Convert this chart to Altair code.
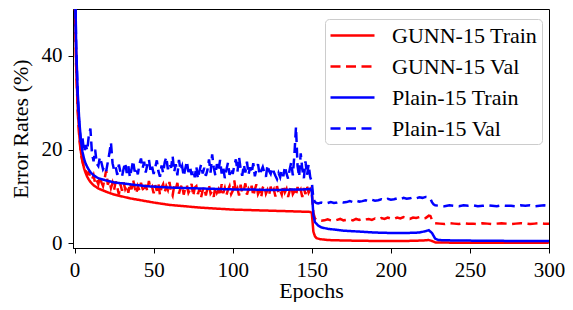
import altair as alt
import pandas as pd

SERIES = ["GUNN-15 Train", "GUNN-15 Val", "Plain-15 Train", "Plain-15 Val"]
COLORS = ["#ff0000", "#ff0000", "#0000ff", "#0000ff"]
DASHES = [[1, 0], [10, 5.5], [1, 0], [10, 5.5]]
X_TICKS = [0, 50, 100, 150, 200, 250, 300]
Y_TICKS = [0, 20, 40]

# GUNN-15 Train
gunn_train_ep = [0, 1, 2, 3, 4, 5, 6, 7, 8, 9, 10, 12, 15, 20, 25, 30, 35, 40, 45, 50,
                 60, 70, 80, 90, 100, 110, 120, 130, 140, 149, 150, 151, 152, 153, 155,
                 160, 170, 180, 190, 200, 210, 220, 224, 226, 228, 235, 250, 275, 300]
gunn_train_val = [60, 38, 29, 23, 19.5, 17.5, 16, 15, 14.2, 13.6, 13.1, 12.4, 11.7, 11, 10.4,
                  10, 9.6, 9.3, 9, 8.7, 8.2, 7.9, 7.6, 7.4, 7.2, 7.1, 7, 6.9, 6.8, 6.7, 6.5,
                  2.5, 1.5, 1.1, 0.9, 0.7, 0.6, 0.55, 0.5, 0.5, 0.5, 0.6, 0.7, 0.5, 0.2,
                  0.15, 0.12, 0.1, 0.1]

# Plain-15 Train
plain_train_ep = [0, 1, 2, 3, 4, 5, 6, 7, 8, 9, 10, 12, 15, 20, 25, 30, 35, 40, 45, 50,
                  60, 70, 80, 90, 100, 110, 120, 130, 140, 145, 149, 150, 151, 152, 154,
                  156, 160, 165, 170, 180, 190, 200, 210, 218, 222, 224, 226, 228, 230,
                  240, 260, 280, 300]
plain_train_val = [65, 42, 32, 26, 22, 19.5, 18, 17, 16.3, 15.7, 15.2, 14.5, 13.9, 13.4, 13,
                   12.8, 12.6, 12.4, 12.2, 12.1, 11.9, 11.8, 11.7, 11.6, 11.5, 11.5, 11.4,
                   11.4, 11.5, 11.5, 11.6, 11.2, 6, 4.5, 3.8, 3.4, 3.1, 2.9, 2.7, 2.5, 2.3,
                   2.2, 2.2, 2.3, 2.6, 2.8, 2.2, 1.0, 0.7, 0.6, 0.55, 0.5, 0.5]

# GUNN-15 Val
gunn_val_ep = list(range(0, 155)) + [156, 158, 160, 162, 164, 166, 168, 170, 172, 174, 176,
              178, 180, 182, 184, 186, 188, 190, 192, 194, 196, 198, 200, 202, 204, 206,
              208, 210, 212, 214, 216, 218, 220, 222, 224, 225, 226, 227, 228, 231, 234,
              237, 240, 243, 246, 249, 252, 255, 258, 261, 264, 267, 270, 273, 276, 279,
              282, 285, 288, 291, 294, 297, 300]
gunn_val_val = [55, 38, 28, 22.5, 19, 17.5, 16, 15.5, 14.8, 15.2, 14,
                13.6, 14.5, 12.8, 13.5, 12.6, 14.2, 13, 12.2, 13.8, 15.6,
                12.5, 13.4, 11.8, 12.9, 11.4, 13.2, 12, 10.4, 12.6, 11.2,
                13, 11.6, 12.4, 10.8, 12.8, 11.5, 13.6, 11.9, 10.6, 12.2,
                11.3, 12.9, 11.7, 10.9, 12.5, 11.1, 13.3, 11.6, 12.1, 10.7,
                12.4, 11.2, 12.8, 10.3, 11.9, 12.6, 10.9, 12.2, 11.4, 13.1,
                11, 10.2, 12.3, 11.5, 12.9, 10.6, 11.8, 12.5, 10.4, 11.7,
                12.4, 10.8, 11.5, 12.7, 10.1, 11.9, 12.2, 10.5, 11.6, 9.8,
                11.3, 12, 10.2, 11.7, 12.4, 10.6, 11.1, 9.9, 12.1, 10.8,
                11.5, 10.1, 12.6, 10.7, 11.8, 10.3, 11.4, 12.2, 10.5, 11.2,
                13.4, 10.9, 11.7, 10.2, 12.5, 10.8, 11.3, 12.8, 10.4, 11.6,
                10.9, 12.3, 10.1, 11.5, 12.6, 10.5, 11.2, 9.8, 11.9, 12.4,
                10.6, 11.4, 10.3, 12.1, 10.8, 11.5, 10, 12.2, 10.7, 11.3,
                10.4, 12.4, 10.9, 11.6, 9.9, 11.2, 12.3, 10.5, 11.1, 10.2,
                12, 10.7, 11.4, 9.9, 11.8, 10.5, 12.1, 10.8, 11.5, 10.6,
                6.5, 5.3, 5, 4.9,
                4.8, 4.9, 5.1, 4.9, 4.8, 5, 5.2, 4.9, 5, 5.1, 4.9,
                5.2, 5, 5.3, 5.1, 5.2, 5, 5.3, 5.1, 5.4, 5.2, 5.5, 5.3, 5.2, 5.5, 5.3,
                5.6, 5.4, 5.2, 5.5, 5.4, 5.6, 5.3, 5.4, 5.9, 5.8, 5, 4.5, 4.3, 4.2, 4.1,
                4.3, 4.2, 4.1, 4.3, 4.2, 4.2, 4.1, 4.3, 4.2, 4.1, 4.2, 4.3, 4.2, 4.1, 4.2,
                4.3, 4.2, 4.1, 4.2, 4.3, 4.2, 4.2]

# Plain-15 Val
plain_val_ep = list(range(0, 155)) + [156, 158, 160, 162, 164, 166, 168, 170, 172, 174, 176,
               178, 180, 182, 184, 186, 188, 190, 192, 194, 196, 198, 200, 202, 204, 206,
               208, 210, 212, 214, 216, 218, 220, 222, 224, 225, 226, 227, 228, 231, 234,
               237, 240, 243, 246, 249, 252, 255, 258, 261, 264, 267, 270, 273, 276, 279,
               282, 285, 288, 291, 294, 297, 300]
plain_val_val = [60, 42, 31, 25, 21.5, 22.5, 19.5, 21, 19.8, 23, 24.5,
                 19.2, 17.5, 20, 17, 16.5, 18.4, 17.2, 15.8, 16.4, 15.4,
                 17.3, 19.2, 21.5, 17.1, 15.6, 16.3, 14.6, 16.8, 15.2, 14.3,
                 15.9, 17.2, 15, 16.5, 14.1, 15.8, 17.6, 15.3, 16.2, 14.7,
                 16.9, 18.1, 16, 17.4, 15.1, 16.8, 17.9, 15.5, 16.4, 14.8,
                 16.2, 17.7, 15.4, 14.2, 16.6, 15, 17.3, 18.4, 15.8, 17,
                 16.1, 18.6, 15.3, 16.9, 14.5, 17.8, 15.6, 16.5, 14.3, 15.9,
                 17.5, 15.2, 16.3, 14.6, 15.7, 14.1, 16.4, 13.8, 15.5, 16.8,
                 14.9, 16.1, 14.4, 15.6, 17.9, 15.1, 19, 16.2, 14.5, 16.9,
                 15.4, 17.8, 14.9, 16.3, 13.9, 15.7, 17.2, 14.6, 16, 14.8,
                 16.6, 17.9, 15.3, 18.4, 15.9, 14.4, 16.8, 15.1, 17.4, 14.7,
                 16.2, 15, 17.1, 14.3, 15.8, 16.9, 14.6, 15.5, 16.3, 15.1,
                 14.2, 16.7, 15.4, 14.8, 16.1, 15.2, 14.4, 13.7, 15, 14.1,
                 15.6, 14.3, 16.4, 14.9, 13.8, 15.7, 17.3, 14.5, 18.9, 24.8,
                 16.5, 14.2, 19.2, 15.8, 13.9, 17.5, 14.6, 16.8, 14.1, 13.2,
                 9.5, 8.8, 8.6, 8.5,
                 8.7, 8.5, 8.6, 8.8, 8.6, 8.7, 8.9, 8.7, 8.8, 9, 8.8,
                 9.1, 8.9, 9, 9.2, 9, 9.3, 9.1, 9.2, 9.4, 9.2, 9.5, 9.3, 9.4, 9.6, 9.4,
                 9.7, 9.5, 9.6, 9.8, 9.6, 9.8, 9.7, 9.9, 9.8, 9.5, 8.8, 8.3, 8.1, 8.0, 7.9,
                 8.1, 8.0, 7.9, 8.1, 8.0, 8.1, 7.9, 8.0, 8.1, 8.0, 7.9, 8.1, 8.0, 8.0, 7.9,
                 8.1, 8.0, 8.1, 7.9, 8.0, 8.1, 8.0]

frames = []
for name, ep, val in [(SERIES[0], gunn_train_ep, gunn_train_val),
                      (SERIES[1], gunn_val_ep, gunn_val_val),
                      (SERIES[2], plain_train_ep, plain_train_val),
                      (SERIES[3], plain_val_ep, plain_val_val)]:
    frames.append(pd.DataFrame({"epoch": ep, "err": val, "series": name}))
df = pd.concat(frames, ignore_index=True)

FONT = "Liberation Serif"

legend = alt.Legend(
    title=None, orient="none", legendX=252, legendY=10,
    symbolType="M-1,0H3", symbolSize=484, symbolStrokeWidth=2.5,
    labelFont=FONT, labelFontSize=22, labelColor="black", labelLimit=400,
    labelOffset=38, rowPadding=7, padding=4,
    strokeColor="#cccccc", fillColor="white", cornerRadius=4,
)

axis_common = dict(labelFont=FONT, labelFontSize=21, labelColor="black", labelPadding=6,
                   titleFont=FONT, titleFontSize=22, titleColor="black",
                   titleFontWeight="normal", labelFlush=False, labelOverlap=False,
                   grid=False, domainColor="black", tickColor="black", tickSize=5)

x_enc = alt.X("epoch:Q", scale=alt.Scale(domain=[-1, 300], nice=False, zero=False),
              axis=alt.Axis(values=X_TICKS, title="Epochs", titleX=238, titleY=49,
                            titleBaseline="alphabetic", titleAlign="center", **axis_common))
y_enc = alt.Y("err:Q", scale=alt.Scale(domain=[-1, 50], nice=False, zero=False),
              axis=alt.Axis(values=Y_TICKS, title="Error Rates (%)", titleX=-45.5,
                            titleY=119.5, titleAngle=270, titleBaseline="alphabetic",
                            titleAlign="center", **axis_common))
color_enc = alt.Color("series:N", scale=alt.Scale(domain=SERIES, range=COLORS), legend=legend)
dash_enc = alt.StrokeDash("series:N", scale=alt.Scale(domain=SERIES, range=DASHES), legend=legend)

layers = []
for s in SERIES:
    layers.append(
        alt.Chart(df).transform_filter(alt.datum.series == s)
        .mark_line(clip=True, strokeWidth=2.5)
        .encode(x=x_enc, y=y_enc, color=color_enc, strokeDash=dash_enc, order="epoch:Q")
    )

chart = alt.layer(*layers).properties(
    width=476, height=239,
    autosize=alt.AutoSizeParams(type="none"),
    padding={"left": 65, "top": 1, "right": 16, "bottom": 54},
).configure_view(stroke="black", strokeWidth=1).configure_axis(
    grid=False, domainColor="black", domainWidth=1, tickColor="black", tickSize=5,
    tickWidth=1, labelFont=FONT, labelFontSize=21, labelColor="black",
    titleFont=FONT, titleFontSize=22, titleColor="black", titleFontWeight="normal",
).configure_legend(symbolStrokeWidth=2.5)

chart.save("out.html", embed_options={"renderer": "svg", "actions": False})
